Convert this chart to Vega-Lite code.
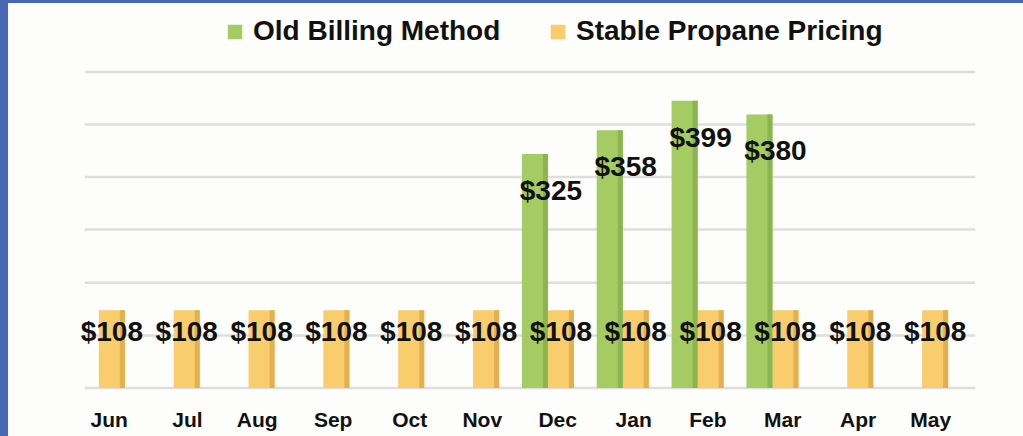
{
  "$schema": "https://vega.github.io/schema/vega-lite/v6.json",
  "width": 1015,
  "height": 433,
  "autosize": {"type": "none"},
  "padding": {"left": 8, "top": 3, "right": 0, "bottom": 0},
  "background": "#4767b5",
  "config": {
    "view": {"fill": "#fdfdfb", "stroke": null},
    "font": "Liberation Sans"
  },
  "datasets": {
    "bills": [
      {"month": "Jun", "series": "Stable Propane Pricing", "value": 108},
      {"month": "Jul", "series": "Stable Propane Pricing", "value": 108},
      {"month": "Aug", "series": "Stable Propane Pricing", "value": 108},
      {"month": "Sep", "series": "Stable Propane Pricing", "value": 108},
      {"month": "Oct", "series": "Stable Propane Pricing", "value": 108},
      {"month": "Nov", "series": "Stable Propane Pricing", "value": 108},
      {"month": "Dec", "series": "Stable Propane Pricing", "value": 108},
      {"month": "Jan", "series": "Stable Propane Pricing", "value": 108},
      {"month": "Feb", "series": "Stable Propane Pricing", "value": 108},
      {"month": "Mar", "series": "Stable Propane Pricing", "value": 108},
      {"month": "Apr", "series": "Stable Propane Pricing", "value": 108},
      {"month": "May", "series": "Stable Propane Pricing", "value": 108},
      {"month": "Dec", "series": "Old Billing Method", "value": 325},
      {"month": "Jan", "series": "Old Billing Method", "value": 358},
      {"month": "Feb", "series": "Old Billing Method", "value": 399},
      {"month": "Mar", "series": "Old Billing Method", "value": 380}
    ],
    "grid": [
      {"v": 0}, {"v": 73}, {"v": 146}, {"v": 220}, {"v": 293}, {"v": 366}, {"v": 439}
    ]
  },
  "layer": [
    {
      "data": {"name": "grid"},
      "mark": {"type": "rule", "color": "#dedede", "strokeWidth": 2.5},
      "encoding": {
        "y": {"field": "v", "type": "quantitative", "scale": {"domain": [-66.7, 534.7], "nice": false, "zero": false}, "axis": null},
        "x": {"datum": "Jun", "type": "nominal", "bandPosition": -0.54},
        "x2": {"datum": "May", "bandPosition": 2.04}
      }
    },
    {
      "data": {"name": "bills"},
      "transform": [{"filter": "datum.series === 'Stable Propane Pricing'"}],
      "mark": {"type": "bar", "color": "#f9cd6c"},
      "encoding": {
        "x": {
          "field": "month", "type": "nominal",
          "scale": {"domain": ["Jun","Jul","Aug","Sep","Oct","Nov","Dec","Jan","Feb","Mar","Apr","May"], "range": [16, 1015], "paddingInner": 0.652, "paddingOuter": 1},
          "axis": {"orient": "bottom", "offset": -24, "bandPosition": 0.5, "labelOffset": 16, "domain": false, "ticks": false, "grid": false, "labelPadding": 8, "labelFontSize": 21, "labelFontWeight": "bold", "labelColor": "#111111", "labelAngle": 0, "title": null}
        },
        "y": {"field": "value", "type": "quantitative"},
        "color": {
          "field": "series", "type": "nominal",
          "scale": {"domain": ["Old Billing Method", "Stable Propane Pricing"], "range": ["#a5cc62", "#f9cd6c"]},
          "legend": {"orient": "none", "legendX": 213, "legendY": 15, "direction": "horizontal", "title": null, "symbolType": "square", "symbolSize": 210, "symbolStrokeWidth": 0, "symbolOpacity": 1, "labelFontSize": 28, "labelFontWeight": "bold", "labelColor": "#111111", "labelOffset": 4, "columnPadding": 43, "labelLimit": 0}
        }
      }
    },
    {
      "data": {"name": "bills"},
      "transform": [{"filter": "datum.series === 'Stable Propane Pricing'"}],
      "mark": {"type": "bar", "color": "#e4b04e", "width": 5, "xOffset": 10.5},
      "encoding": {
        "x": {"field": "month", "type": "nominal"},
        "y": {"field": "value", "type": "quantitative"}
      }
    },
    {
      "data": {"name": "bills"},
      "transform": [{"filter": "datum.series === 'Old Billing Method'"}],
      "mark": {"type": "bar", "xOffset": -26},
      "encoding": {
        "x": {"field": "month", "type": "nominal"},
        "y": {"field": "value", "type": "quantitative"},
        "color": {"field": "series", "type": "nominal"}
      }
    },
    {
      "data": {"name": "bills"},
      "transform": [{"filter": "datum.series === 'Old Billing Method'"}],
      "mark": {"type": "bar", "color": "#8cb44f", "width": 5, "xOffset": -15.5},
      "encoding": {
        "x": {"field": "month", "type": "nominal"},
        "y": {"field": "value", "type": "quantitative"}
      }
    },
    {
      "data": {"name": "bills"},
      "transform": [{"filter": "datum.series === 'Stable Propane Pricing'"}],
      "mark": {"type": "text", "dy": 23, "fontSize": 28, "fontWeight": "bold", "color": "#111111", "baseline": "middle"},
      "encoding": {
        "x": {"field": "month", "type": "nominal"},
        "y": {"field": "value", "type": "quantitative"},
        "text": {"field": "value", "type": "quantitative", "format": "$.0f"}
      }
    },
    {
      "data": {"name": "bills"},
      "transform": [{"filter": "datum.series === 'Old Billing Method'"}],
      "mark": {"type": "text", "dx": -10, "dy": 38, "fontSize": 28, "fontWeight": "bold", "color": "#111111", "baseline": "middle"},
      "encoding": {
        "x": {"field": "month", "type": "nominal"},
        "y": {"field": "value", "type": "quantitative"},
        "text": {"field": "value", "type": "quantitative", "format": "$.0f"}
      }
    }
  ]
}
